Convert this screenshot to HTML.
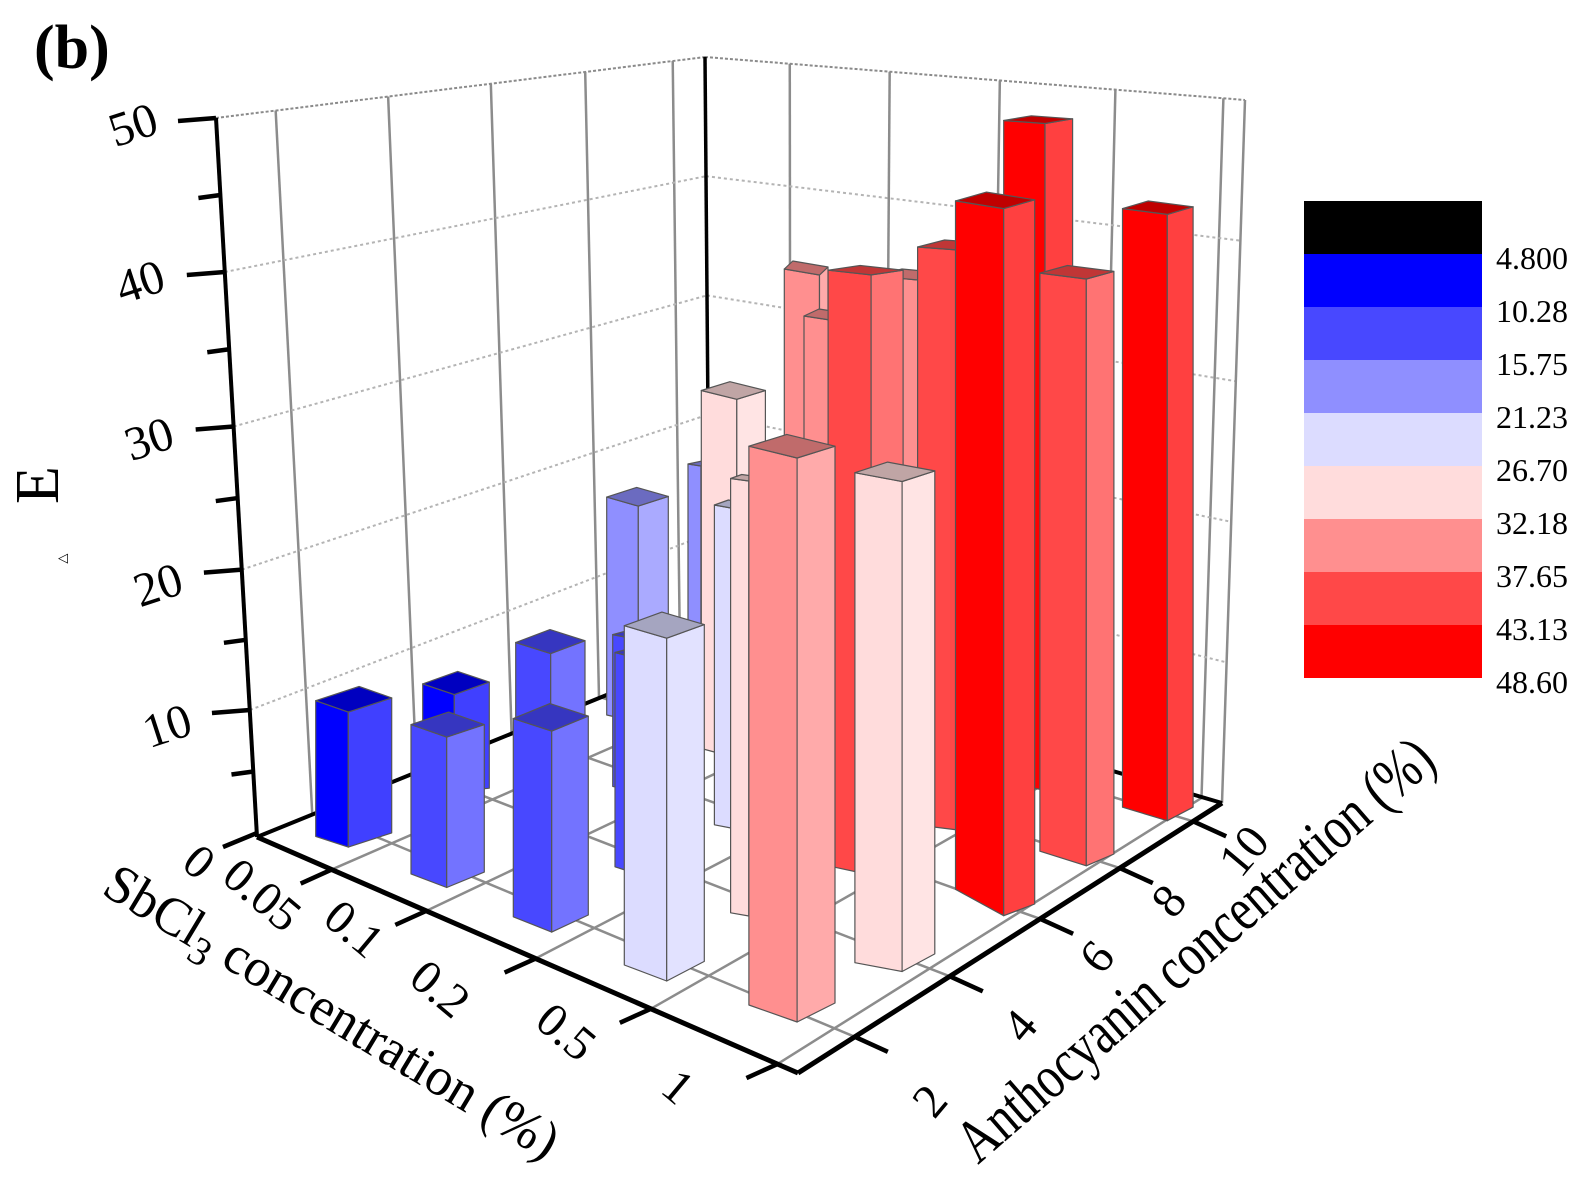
<!DOCTYPE html>
<html><head><meta charset="utf-8"><style>
html,body{margin:0;padding:0;background:#fff;}
svg{display:block;font-family:"Liberation Serif","DejaVu Serif",serif;}
</style></head><body>
<svg id="s" width="1586" height="1186" viewBox="0 0 1586 1186" xmlns="http://www.w3.org/2000/svg">
<g id="walls"></g>
<g id="bars"></g>
<g id="axes"></g>
<text x="34" y="68" font-size="62" font-weight="bold">(b)</text>
<g font-size="48" text-anchor="middle">
<text transform="translate(138,140) rotate(-18)">50</text>
<text transform="translate(145,297) rotate(-18)">40</text>
<text transform="translate(154,454) rotate(-18)">30</text>
<text transform="translate(163,600) rotate(-18)">20</text>
<text transform="translate(172,741) rotate(-18)">10</text>
<text transform="translate(189,874) rotate(40)">0</text>
<text transform="translate(252,907) rotate(40)">0.05</text>
<text transform="translate(344,941) rotate(40)">0.1</text>
<text transform="translate(430,1001) rotate(40)">0.2</text>
<text transform="translate(556,1044) rotate(40)">0.5</text>
<text transform="translate(668,1099) rotate(40)">1</text>
<text transform="translate(942,1111) rotate(-50)">2</text>
<text transform="translate(1032,1036) rotate(-50)">4</text>
<text transform="translate(1109,967) rotate(-50)">6</text>
<text transform="translate(1181,911) rotate(-50)">8</text>
<text transform="translate(1256,861) rotate(-50)">10</text>
</g>
<text transform="translate(58,485) rotate(-90)" font-size="62" text-anchor="middle">E</text>
<text x="58" y="562" font-size="13">◁</text>
<text transform="translate(100,893) rotate(31)" font-size="54" textLength="520" lengthAdjust="spacingAndGlyphs">SbCl<tspan font-size="40" dy="12">3</tspan><tspan dy="-12"> concentration (%)</tspan></text>
<text transform="translate(978,1165) rotate(-41)" font-size="62" textLength="610" lengthAdjust="spacingAndGlyphs">Anthocyanin concentration (%)</text>
<g>
<rect x="1304" y="201" width="178" height="53" fill="#000"/>
<rect x="1304" y="254" width="178" height="53" fill="#0000ff"/>
<rect x="1304" y="307" width="178" height="53" fill="#4848ff"/>
<rect x="1304" y="360" width="178" height="53" fill="#8f8fff"/>
<rect x="1304" y="413" width="178" height="53" fill="#dcdcff"/>
<rect x="1304" y="466" width="178" height="53" fill="#ffdcdc"/>
<rect x="1304" y="519" width="178" height="53" fill="#ff8f8f"/>
<rect x="1304" y="572" width="178" height="53" fill="#ff4848"/>
<rect x="1304" y="625" width="178" height="53" fill="#ff0000"/>
</g>
<g font-size="32">
<text x="1496" y="269">4.800</text>
<text x="1496" y="322">10.28</text>
<text x="1496" y="375">15.75</text>
<text x="1496" y="428">21.23</text>
<text x="1496" y="481">26.70</text>
<text x="1496" y="534">32.18</text>
<text x="1496" y="587">37.65</text>
<text x="1496" y="640">43.13</text>
<text x="1496" y="693">48.60</text>
</g>
</svg>
<script>
(function(){
var NS="http://www.w3.org/2000/svg";
function el(par,tag,attrs){var e=document.createElementNS(NS,tag);for(var k in attrs)e.setAttribute(k,attrs[k]);document.getElementById(par).appendChild(e);return e;}
function line(par,a,b,st,w,dash){var o={x1:a[0],y1:a[1],x2:b[0],y2:b[1],stroke:st,"stroke-width":w};if(dash)o["stroke-dasharray"]=dash;el(par,"line",o);}
var L=[257,837],F=[798,1073],R=[1222,803],B=[710,653];
var L50=[216,118],B50=[705,57],R50=[1245,100];
function lerp(a,b,t){return [a[0]+(b[0]-a[0])*t,a[1]+(b[1]-a[1])*t];}
function P(s,t){return [L[0]*(1-s)*(1-t)+F[0]*s*(1-t)+R[0]*s*t+B[0]*(1-s)*t, L[1]*(1-s)*(1-t)+F[1]*s*(1-t)+R[1]*s*t+B[1]*(1-s)*t];}
var S=[0.138,0.313,0.515,0.728,0.962],T=[0.134,0.358,0.571,0.759,0.932];
var TW=[0.122,0.352,0.562,0.755,0.934],SW=[0.157,0.342,0.546,0.76,0.96];
TW.forEach(function(t){line("walls",lerp(L,B,t),lerp(L50,B50,t),"#8c8c8c",2.5);});
SW.forEach(function(s){line("walls",lerp(B,R,s),lerp(B50,R50,s),"#8c8c8c",2.5);});
var Ly={10:710,20:569.6,30:426.5,40:272};
[10,20,30,40].forEach(function(z){
 var ly=Ly[z],lx=257-41*(833-ly)/715;
 var by=653-z*11.92,bx=710-0.1*z;
 var ry=803-14.06*z,rx=1222+23*z/50;
 line("walls",[lx,ly],[bx,by],"#b4b4b4",2,"3,3");
 line("walls",[bx,by],[rx,ry],"#b4b4b4",2,"3,3");
});
line("walls",L50,B50,"#8a8a8a",2,"3,2");
line("walls",B50,R50,"#8a8a8a",2,"3,2");
line("walls",R,R50,"#8c8c8c",2.5);
line("walls",B,B50,"#000",3.5);
S.forEach(function(s){line("walls",P(s,0),P(s,1),"#8c8c8c",2.5);});
T.forEach(function(t){line("walls",P(0,t),P(1,t),"#8c8c8c",2.5);});
line("walls",L,B,"#000",4);
line("walls",B,R,"#000",4);
var C={
 "0000":["#0000ff","#4040ff","#0000c0"],
 "4444":["#4848ff","#7373ff","#3636c0"],
 "8f8f":["#8f8fff","#aaaaff","#6b6bc0"],
 "dcdc":["#dcdcff","#e2e2ff","#a5a5c0"],
 "ffdc":["#ffdcdc","#ffe4e4","#c0a5a5"],
 "ff8f":["#ff8f8f","#ffaaaa","#c06b6b"],
 "ff44":["#ff4848","#ff7373","#c03636"],
 "ff00":["#ff0000","#ff4040","#c00000"]};
function pts(a){return a.map(function(p){return p[0].toFixed(1)+","+p[1].toFixed(1);}).join(" ");}
function b(x0,x1,x2,yl,ym,yr,bl,bm,br,c){
 var col=C[c];var xb=x0+(x2-x1),yb=yl-(ym-yr);
 var st={"stroke":"#555","stroke-width":1.2,"stroke-linejoin":"round"};
 function poly(p,f){var o={points:pts(p),fill:f};for(var k in st)o[k]=st[k];el("bars","polygon",o);}
 poly([[x0,yl],[x1,ym],[x1,bm],[x0,bl]],col[0]);
 poly([[x1,ym],[x2,yr],[x2,br],[x1,bm]],col[1]);
 poly([[x0,yl],[x1,ym],[x2,yr],[xb,yb]],col[2]);
}
b(688,701,720,464,466,462,623,626,620,"8f8f");
b(784.3,819.5,828,269,275,267,760,764,758,"ff8f");
b(804,830,845,316,320,313,780,784,778,"ff8f");
b(875,918,945,276,280,273,790,795,788,"ff8f");
b(917.6,958,985,247,250,243,825,830,822,"ff44");
b(1003.7,1045,1072.6,120.5,123.5,118.8,784,790,782,"ff00");
b(1122.5,1167.3,1193.1,208.6,214.4,206.8,807.2,820.7,807.2,"ff00");
b(701.3,736.8,765.4,390.5,399.3,390.5,748.5,758,746,"ffdc");
b(606.7,638.3,668.3,497.1,506.1,496.4,715,722,712,"8f8f");
b(828.1,871.1,903.1,270.2,274.9,270.2,865.8,875,862,"ff44");
b(1039.9,1086.3,1113.9,273.1,279,271.4,851.2,865.8,854,"ff44");
b(955.5,1003.7,1034.7,200.9,208.6,199.8,889.3,915.7,904,"ff00");
b(612.7,625,640,634.6,637,633,786.4,789,785,"4444");
b(615,625,640,652.5,655,651,866.8,870,864,"4444");
b(714.4,731,745,505,508,503,824.8,828,822,"dcdc");
b(730.6,748.9,760,478.5,481,477,912.8,916,910,"ffdc");
b(422.7,454.3,489.3,683.9,694.6,682.1,790,792,788.2,"0000");
b(515.7,550.7,585,642.5,653.6,640.7,780,785,778,"4444");
b(854.9,902.1,934.8,472.7,481.5,470.9,962.7,971.5,953.9,"ffdc");
b(315.7,348.3,391.7,700.7,712.1,697.9,836.4,847.1,832.9,"0000");
b(411,446.7,484.3,724.6,737.1,724.6,873.9,887.5,872.1,"4444");
b(513.3,551.7,588.3,718.6,731.1,716.1,916.8,932.1,915,"4444");
b(624.3,666.7,704.3,625.7,638.2,624.6,965,981,961.4,"dcdc");
b(748.9,797.1,835,446.2,458,446.2,1005,1022,1003,"ff8f");
line("axes",L,F,"#000",5);
line("axes",F,R,"#000",5);
line("axes",L,L50,"#000",4);
var zy=[833,710,569.6,426.5,272,118];
function zp(z){var i=Math.min(4,Math.floor(z/10)),f=(z-i*10)/10;var y=zy[i]+(zy[i+1]-zy[i])*f;return [257-41*(833-y)/715,y];}
for(var z=0;z<=50;z+=5){var p=zp(z);var len=(z%10==0)?38:22;if(z==0)line("axes",p,[p[0]-34,p[1]+14],"#000",4.5);else line("axes",p,[p[0]-len,p[1]+3],"#000",4.5);}
S.forEach(function(s){var p=P(s,0);line("axes",p,[p[0]-31,p[1]+14],"#000",4.5);});
T.forEach(function(t){var p=P(1,t);line("axes",p,[p[0]+33,p[1]+15],"#000",4.5);});
})();
</script>
</body></html>
